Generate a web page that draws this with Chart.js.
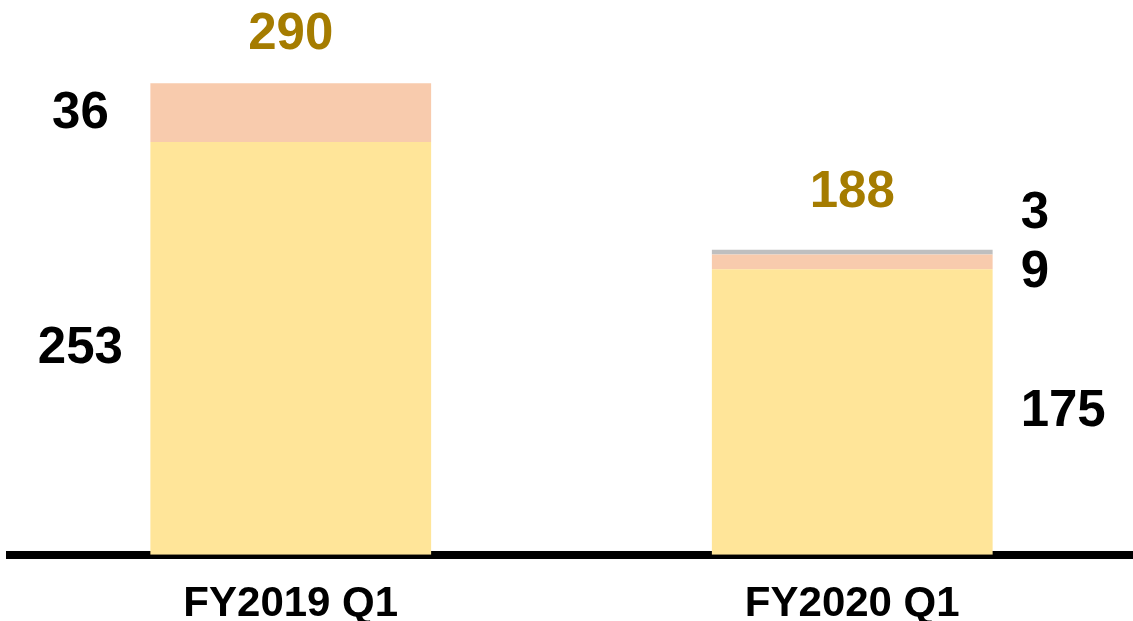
<!DOCTYPE html>
<html>
<head>
<meta charset="utf-8">
<script src="https://cdn.jsdelivr.net/npm/chart.js@4/dist/chart.umd.min.js"></script>
<style>
    html, body { margin: 0; padding: 0; background: #ffffff; }
    #wrap { width: 1133px; height: 621px; position: relative; }
</style>
</head>
<body>
<div id="wrap"><canvas id="quarterChart"></canvas></div>
<script>
const categories = ['FY2019 Q1', 'FY2020 Q1'];
const baseValues = [253, 175];
const middleValues = [36, 9];
const topValues = [0, 3];
const totals = [290, 188];

// label nudges (px) for the thin segments so they don't collide
const labelShift = [
    [1, 0],
    [1, 11],
    [0, -38],
];
const totalGap = [48, 57];

const segmentLabels = {
    id: 'segmentLabels',
    afterDatasetsDraw(chart) {
        const ctx = chart.ctx;
        ctx.save();
        ctx.font = 'bold 51px "Liberation Sans", Arial, sans-serif';
        ctx.textBaseline = 'middle';
        ctx.fillStyle = '#000000';

        chart.data.datasets.forEach((dataset, i) => {
            const meta = chart.getDatasetMeta(i);
            meta.data.forEach((bar, j) => {
                const value = dataset.data[j];
                if (!value) {
                    return;
                }
                const half = bar.width / 2;
                const y = (bar.y + bar.base) / 2 + labelShift[i][j];
                if (j === 0) {
                    ctx.textAlign = 'center';
                    ctx.fillText(String(value), bar.x - half - 70, y);
                } else {
                    ctx.textAlign = 'left';
                    ctx.fillText(String(value), bar.x + half + 28, y);
                }
            });
        });

        const last = chart.data.datasets.length - 1;
        ctx.fillStyle = '#A57C00';
        ctx.textAlign = 'center';
        totals.forEach((total, j) => {
            let top = chart.getDatasetMeta(last).data[j];
            if (!chart.data.datasets[last].data[j]) {
                top = chart.getDatasetMeta(last - 1).data[j];
            }
            ctx.fillText(String(total), top.x, top.y - totalGap[j]);
        });
        ctx.restore();
    },
};

new Chart(document.getElementById('quarterChart'), {
    type: 'bar',
    data: {
        labels: categories,
        datasets: [
            {
                label: 'base',
                data: baseValues,
                backgroundColor: '#FFE599',
                borderWidth: 0,
            },
            {
                label: 'middle',
                data: middleValues,
                backgroundColor: '#F8CBAD',
                borderWidth: 0,
            },
            {
                label: 'top',
                data: topValues,
                backgroundColor: '#BFBFBF',
                borderWidth: 0,
            },
        ],
    },
    options: {
        responsive: true,
        maintainAspectRatio: false,
        animation: false,
        barPercentage: 1,
        categoryPercentage: 0.5,
        layout: {
            padding: { left: 10, right: 0, top: 0, bottom: -34 },
        },
        plugins: {
            legend: { display: false },
            tooltip: { enabled: false },
        },
        scales: {
            x: {
                stacked: true,
                z: 1,
                border: {
                    display: true,
                    color: '#000000',
                    width: 8,
                },
                grid: {
                    display: false,
                    drawTicks: false,
                },
                ticks: {
                    color: '#000000',
                    padding: 27,
                    font: {
                        family: '"Liberation Sans", Arial, sans-serif',
                        size: 42,
                        weight: 'bold',
                        lineHeight: 1.1,
                    },
                },
            },
            y: {
                stacked: true,
                display: false,
                min: 0,
                max: 340,
            },
        },
    },
    plugins: [segmentLabels],
});
</script>
</body>
</html>
